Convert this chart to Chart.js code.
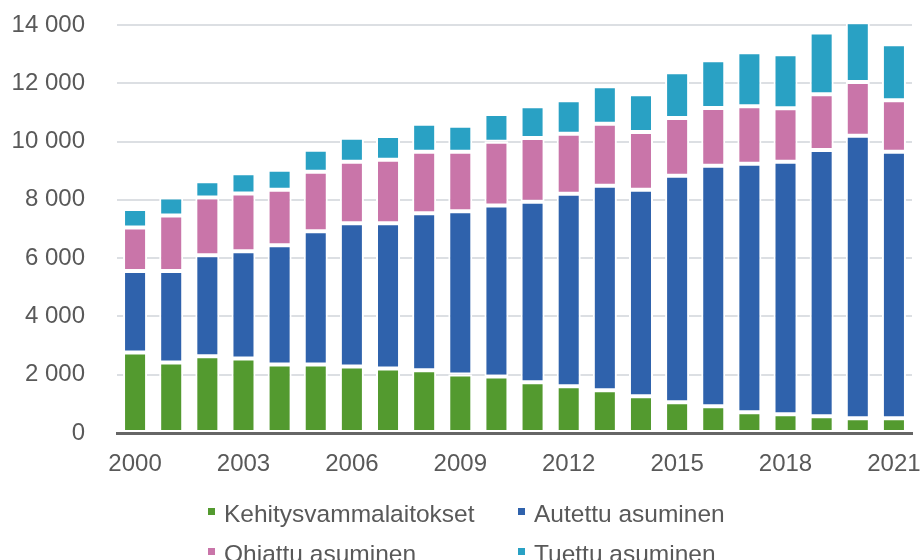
<!DOCTYPE html>
<html lang="fi">
<head>
<meta charset="utf-8">
<title>Kehitysvammaisten asuminen 2000–2021</title>
<script src="https://cdn.jsdelivr.net/npm/chart.js@4/dist/chart.umd.min.js"></script>
<style>
  body { margin: 0; background: #fff; }
  #wrap { position: relative; width: 922px; height: 560px; overflow: hidden; }
  #legend { position: absolute; left: 0; top: 0; width: 922px; height: 560px; pointer-events: none;
            font-family: "Liberation Sans", Arial, sans-serif; font-size: 24.5px; color: #595959; }
  .item { position: absolute; height: 28px; line-height: 28px; white-space: nowrap; }
  .item i { position: absolute; left: 0; top: 8px; width: 7px; height: 7px; }
  .item span { position: absolute; left: 16px; top: 0; }
</style>
</head>
<body>
<div id="wrap">
  <canvas id="chart"></canvas>
  <div id="legend"></div>
</div>
<script>
// Data
const years = [2000, 2001, 2002, 2003, 2004, 2005, 2006, 2007, 2008, 2009, 2010,
               2011, 2012, 2013, 2014, 2015, 2016, 2017, 2018, 2019, 2020, 2021];
const laitokset = [2760, 2420, 2630, 2560, 2350, 2350, 2285, 2215, 2150, 2010, 1940,
                   1740, 1605, 1465, 1260, 1055, 920, 715, 645, 575, 510, 510];
const autettu = [2800, 3140, 3470, 3680, 4090, 4570, 4910, 4980, 5390, 5595, 5870,
                 6195, 6605, 7020, 7085, 7770, 8250, 8525, 8660, 9140, 9690, 9140];
const ohjattu = [1495, 1905, 1980, 1975, 1905, 2045, 2115, 2180, 2110, 2045, 2180,
                 2190, 2055, 2125, 1985, 1985, 1980, 1975, 1840, 1905, 1840, 1770];
const tuettu = [630, 615, 555, 695, 685, 755, 820, 820, 960, 890, 960,
                1085, 1155, 1290, 1290, 1565, 1640, 1850, 1850, 2125, 2055, 1920];
const yTicks = [0, 2000, 4000, 6000, 8000, 10000, 12000, 14000];

const series = [
  { label: "Kehitysvammalaitokset", data: laitokset, color: "#539a2f" },
  { label: "Autettu asuminen", data: autettu, color: "#2f62ac" },
  { label: "Ohjattu asuminen", data: ohjattu, color: "#c975a9" },
  { label: "Tuettu asuminen", data: tuettu, color: "#29a1c4" },
];

const font = { family: "'Liberation Sans', Arial, sans-serif", size: 24 };
const fmt = (v) => String(v).replace(/\B(?=(\d{3})+(?!\d))/g, " ");

const ctx = document.getElementById("chart").getContext("2d");
new Chart(ctx, {
  type: "bar",
  data: {
    labels: years.map(String),
    datasets: series.map(s => ({
      label: s.label,
      data: s.data,
      backgroundColor: s.color,
      borderColor: "#ffffff",
      borderWidth: 2,
      borderSkipped: false,
      barPercentage: 0.665,
      categoryPercentage: 1,
      clip: false,
    })),
  },
  options: {
    responsive: true,
    maintainAspectRatio: false,
    animation: false,
    layout: { padding: { top: 25, right: 10, bottom: 0, left: 0 } },
    plugins: { legend: { display: false }, tooltip: { enabled: false } },
    scales: {
      x: {
        stacked: true,
        z: 1,
        grid: { display: false },
        border: { display: true, color: "#666666", width: 3 },
        ticks: {
          autoSkip: false,
          maxRotation: 0,
          padding: 9,
          color: "#595959",
          font,
          callback: (v, i) => (i % 3 === 0 ? years[i] : ""),
        },
        // fixed axis box, no extra room for the edge labels
        afterFit: (scale) => { scale.height = 127; scale.paddingLeft = 0; scale.paddingRight = 0; },
      },
      y: {
        stacked: true,
        min: 0,
        max: 14000,
        afterBuildTicks: (scale) => { scale.ticks = yTicks.map(v => ({ value: v })); },
        grid: { color: "#dcdfe3", lineWidth: 2, drawTicks: false },
        border: { display: false },
        ticks: { padding: 32, color: "#595959", font, callback: (v) => fmt(v) },
        afterFit: (scale) => { scale.width = 117; scale.paddingTop = 0; scale.paddingBottom = 0; },
      },
    },
  },
});

// Legend in two fixed columns
const legendPos = [[208, 500], [518, 500], [208, 540], [518, 540]];
const legend = document.getElementById("legend");
series.forEach((s, i) => {
  const el = document.createElement("div");
  el.className = "item";
  el.style.left = legendPos[i][0] + "px";
  el.style.top = legendPos[i][1] + "px";
  el.innerHTML = `<i style="background:${s.color}"></i><span>${s.label}</span>`;
  legend.appendChild(el);
});
</script>
</body>
</html>
